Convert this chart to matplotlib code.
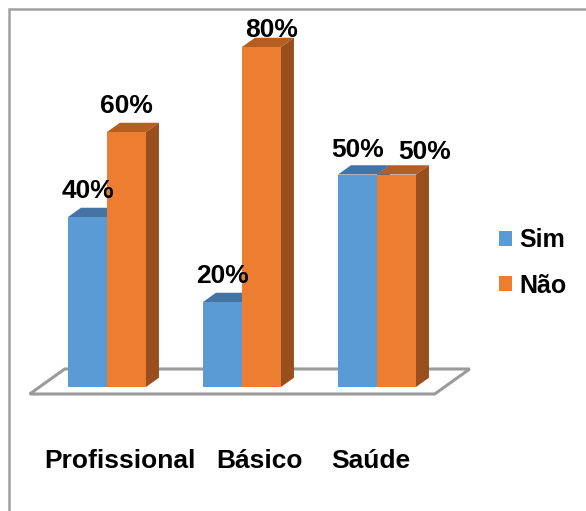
import matplotlib
matplotlib.use("Agg")
import matplotlib.pyplot as plt
from matplotlib.patches import Polygon, Rectangle, Patch
import numpy as np

# ---- data ----
categories = ["Profissional", "Básico", "Saúde"]
series_names = ["Sim", "Não"]
sim_values = [40, 20, 50]
nao_values = [60, 80, 50]
value_labels_sim = ["40%", "20%", "50%"]
value_labels_nao = ["60%", "80%", "50%"]

# ---- style ----
front_colors = ["#5B9BD5", "#ED7D31"]
top_colors = ["#4374A3", "#B65E22"]
side_colors = ["#3D6890", "#994F1D"]
FONT = "Liberation Sans"

W, H = 586, 511
fig = plt.figure(figsize=(W / 100, H / 100), dpi=100)
ax = fig.add_axes([0, 0, 1, 1])

# scale: 135 px per category, 4.25 px per percent
px_per_x = 135.0
px_per_y = 4.25
x0_px, y0_px = 107.0, 387.0
ax.set_xlim(-x0_px / px_per_x, (W - x0_px) / px_per_x)
ax.set_ylim(-(H - y0_px) / px_per_y, y0_px / px_per_y)
ax.axis("off")

bar_w = 39 / px_per_x
# floor depth vector (full) and bar depth
floor_dx, floor_dy = 35 / px_per_x, 25 / px_per_y
bar_frac = 0.37
bdx, bdy = floor_dx * bar_frac, floor_dy * bar_frac
front_frac = 0.28  # floor front lies this much in front of bar plane

# ---- floor ----
n = len(categories)
xl, xr = -0.5, n - 0.5
fl = (xl - front_frac * floor_dx, -front_frac * floor_dy)
fr = (xr - front_frac * floor_dx, -front_frac * floor_dy)
br = (fr[0] + floor_dx, fr[1] + floor_dy)
bl = (fl[0] + floor_dx, fl[1] + floor_dy)
ax.add_patch(Polygon([fl, fr, br, bl], closed=True, facecolor="white",
                     edgecolor="#9A9A9A", linewidth=2.2, zorder=1))

x = np.arange(n)
offsets = [-bar_w / 2, bar_w / 2]
all_vals = [sim_values, nao_values]
all_labels = [value_labels_sim, value_labels_nao]
# per label nudge (px) for placement like the original
nudges = {(1, 1): (10, -9), (1, 2): (28, -3), (0, 2): (0, -1)}

z = 2
for i in range(n):
    for s in range(2):
        v = all_vals[s][i]
        xc = x[i] + offsets[s]
        left = xc - bar_w / 2
        right = xc + bar_w / 2
        ax.bar(xc, v, width=bar_w, color=front_colors[s], zorder=z + 0.2,
               linewidth=0)
        ax.add_patch(Polygon([(left, v), (right, v), (right + bdx, v + bdy),
                              (left + bdx, v + bdy)], closed=True,
                             facecolor=top_colors[s], linewidth=0, zorder=z))
        ax.add_patch(Polygon([(right, 0), (right + bdx, bdy),
                              (right + bdx, v + bdy), (right, v)], closed=True,
                             facecolor=side_colors[s], linewidth=0, zorder=z))
        z += 1

for i in range(n):
    for s in range(2):
        v = all_vals[s][i]
        xc = x[i] + offsets[s]
        dxp, dyp = nudges.get((s, i), (0, 0))
        ax.annotate(all_labels[s][i], xy=(xc, v), xytext=(dxp * 0.72, (26 + dyp) * 0.72),
                    textcoords="offset points", ha="center", va="center",
                    fontsize=19, fontweight="bold", family=FONT, color="black",
                    zorder=50)

# category labels
cat_nudge_px = [13, 18, -6]
cat_y = (y0_px - 461) / px_per_y
for i, c in enumerate(categories):
    ax.text(x[i] + cat_nudge_px[i] / px_per_x, cat_y, c, ha="center", va="center",
            fontsize=19, fontweight="bold", family=FONT, color="black")

# legend
handles = [Patch(facecolor=front_colors[s], edgecolor="none") for s in range(2)]
leg = fig.legend(handles, series_names, loc="center left",
                 bbox_to_anchor=(486 / W, 1 - 263 / H), frameon=False,
                 prop={"family": FONT, "weight": "bold", "size": 18},
                 handlelength=0.52, handleheight=0.52, handletextpad=0.33,
                 labelspacing=0.85, borderpad=0)

# outer border
fig.patches.append(Rectangle((8.5 / W, -0.2), 1.5, 1 - 8.5 / H + 0.2,
                             transform=fig.transFigure, facecolor="none",
                             edgecolor="#A0A0A0", linewidth=1.8))

fig.savefig("out.png", dpi=100)
